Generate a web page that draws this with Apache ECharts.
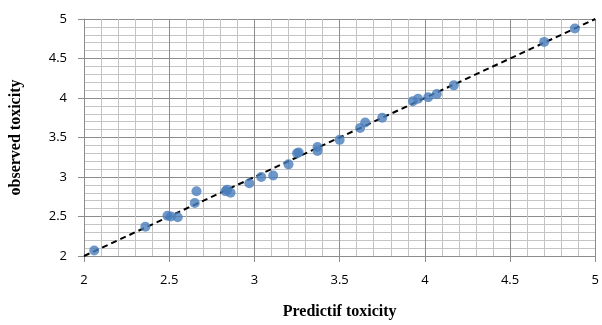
<!DOCTYPE html>
<html>
<head>
<meta charset="utf-8">
<script src="https://cdn.jsdelivr.net/npm/echarts@6/dist/echarts.min.js"></script>
<style>
  html, body { margin: 0; padding: 0; background: #fff; }
  #chart { width: 602px; height: 325px; }
</style>
</head>
<body>
<div id="chart"></div>
<script>
const predicted = [2.06, 2.36, 2.49, 2.51, 2.55, 2.65, 2.66, 2.83, 2.84, 2.86, 2.97, 3.04, 3.11, 3.2, 3.25, 3.26,
    3.37, 3.37, 3.5, 3.62, 3.65, 3.75, 3.93, 3.96, 4.02, 4.07, 4.17, 4.7, 4.88];
const observed = [2.07, 2.37, 2.51, 2.5, 2.49, 2.67, 2.82, 2.82, 2.84, 2.8, 2.92, 3.0, 3.02, 3.16, 3.3, 3.31,
    3.33, 3.38, 3.47, 3.62, 3.69, 3.75, 3.96, 3.99, 4.01, 4.05, 4.16, 4.71, 4.88];
const fitLine = [[2, 2], [5, 5]];

const mychart = echarts.init(document.getElementById('chart'));
const points = predicted.map((x, i) => [x, observed[i]]);

const axisCommon = {
    type: 'value',
    min: 2,
    max: 5,
    interval: 0.5,
    nameLocation: 'middle',
    nameTextStyle: {
        fontFamily: 'Liberation Serif',
        fontWeight: 'bold',
        fontSize: 16,
        color: '#000'
    },
    axisLine: { show: true, lineStyle: { color: '#8c8c8c', width: 1 } },
    axisTick: { show: true, inside: false, length: 6, lineStyle: { color: '#8c8c8c' } },
    axisLabel: { fontFamily: 'Open Sans', fontSize: 13, color: '#000' },
    splitLine: { show: true, lineStyle: { color: '#8c8c8c', width: 1 } },
    minorTick: { show: false, splitNumber: 5 },
    minorSplitLine: { show: true, lineStyle: { color: '#c4c4c4', width: 1 } }
};

mychart.setOption({
    animation: false,
    grid: { left: 78, right: 3, top: 19, bottom: 66 },
    xAxis: Object.assign({}, axisCommon, {
        name: 'Predictif toxicity',
        nameGap: 48,
        axisLabel: Object.assign({}, axisCommon.axisLabel, { margin: 18 })
    }),
    yAxis: Object.assign({}, axisCommon, {
        name: 'observed toxicity',
        nameGap: 60,
        axisLabel: Object.assign({}, axisCommon.axisLabel, { margin: 17 })
    }),
    series: [
        {
            type: 'line',
            data: fitLine,
            symbol: 'none',
            lineStyle: { color: '#000', width: 2, type: [6, 4] },
            z: 3
        },
        {
            type: 'scatter',
            data: points,
            symbolSize: 10,
            itemStyle: { color: '#4a7ebb' },
            z: 4
        }
    ]
});
</script>
</body>
</html>
